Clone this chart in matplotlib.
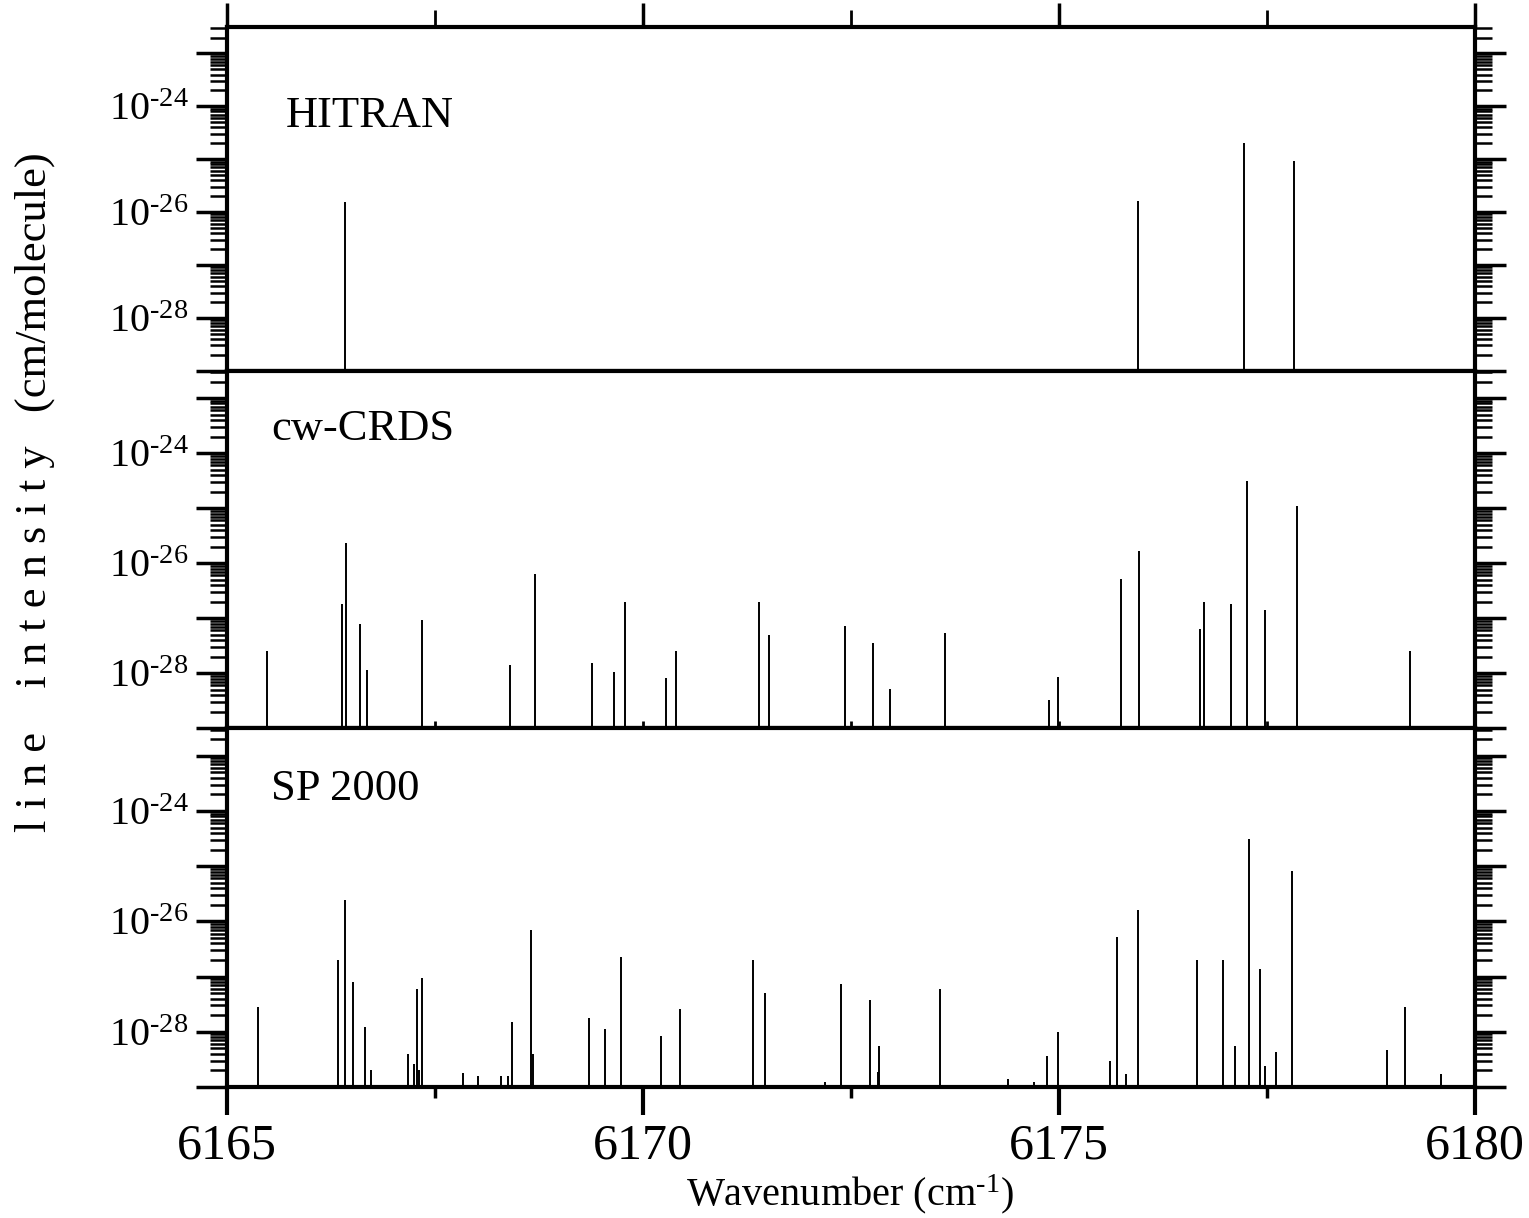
import numpy as np
import matplotlib
matplotlib.use("Agg")
import matplotlib.pyplot as plt
from matplotlib.ticker import FixedLocator, LogLocator, FuncFormatter, MultipleLocator, NullFormatter

plt.rcParams['font.family'] = 'serif'
plt.rcParams['font.serif'] = ['Liberation Serif', 'DejaVu Serif']
plt.rcParams['mathtext.fontset'] = 'custom'
plt.rcParams['mathtext.rm'] = 'Liberation Serif'
plt.rcParams['mathtext.it'] = 'Liberation Serif:italic'
plt.rcParams['mathtext.bf'] = 'Liberation Serif:bold'

# ---------------- data ----------------
panel_names = ["HITRAN", "cw-CRDS", "SP 2000"]

hitran_wn = [6166.41, 6175.95, 6177.23, 6177.83]
hitran_int = [1.55e-26, 1.6e-26, 2.0e-25, 9.1e-26]

crds_wn = [6165.48, 6166.38, 6166.43, 6166.59, 6166.68, 6167.34, 6168.40, 6168.70,
           6169.38, 6169.65, 6169.78, 6170.27, 6170.39, 6171.39, 6171.51, 6172.43,
           6172.76, 6172.97, 6173.63, 6174.88, 6174.99, 6175.75, 6175.97, 6176.70,
           6176.74, 6177.07, 6177.26, 6177.48, 6177.86, 6179.22]
crds_int = [2.5e-28, 1.8e-27, 2.35e-26, 7.8e-28, 1.15e-28, 9.3e-28, 1.4e-28, 6.3e-27,
            1.55e-28, 1.07e-28, 2.0e-27, 8.1e-29, 2.5e-28, 2.0e-27, 5.0e-28, 7.1e-28,
            3.6e-28, 5.2e-29, 5.4e-28, 3.3e-29, 8.7e-29, 5.1e-27, 1.66e-26, 6.3e-28,
            2.0e-27, 1.8e-27, 3.1e-25, 1.4e-27, 1.1e-25, 2.5e-28]

sp_wn = [6165.37, 6166.33, 6166.41, 6166.51, 6166.65, 6166.73, 6167.17, 6167.24,
         6167.28, 6167.31, 6167.34, 6167.83, 6168.01, 6168.29, 6168.38, 6168.42,
         6168.65, 6168.67, 6169.35, 6169.54, 6169.73, 6170.22, 6170.44, 6171.32,
         6171.47, 6172.19, 6172.38, 6172.73, 6172.82, 6172.84, 6173.57, 6174.39,
         6174.70, 6174.86, 6174.99, 6175.62, 6175.70, 6175.81, 6175.95, 6176.66,
         6176.98, 6177.12, 6177.29, 6177.42, 6177.48, 6177.61, 6177.80, 6178.95,
         6179.16, 6179.60]
sp_int = [2.8e-28, 2.0e-27, 2.4e-26, 8.1e-28, 1.2e-28, 2.0e-29, 3.9e-29, 2.6e-29,
          6.0e-28, 2.0e-29, 9.5e-28, 1.8e-29, 1.55e-29, 1.55e-29, 1.6e-29, 1.5e-28,
          6.9e-27, 3.9e-29, 1.8e-28, 1.1e-28, 2.3e-27, 8.3e-29, 2.6e-28, 2.0e-27,
          5.0e-28, 1.25e-29, 7.2e-28, 3.8e-28, 1.9e-29, 5.6e-29, 6.0e-28, 1.4e-29,
          1.25e-29, 3.6e-29, 1.0e-28, 2.9e-29, 5.2e-27, 1.7e-29, 1.6e-26, 2.0e-27,
          2.0e-27, 5.6e-29, 3.1e-25, 1.4e-27, 2.4e-29, 4.3e-29, 8.2e-26, 4.6e-29,
          2.8e-28, 1.7e-29]

labeled_exponents = [-24, -26, -28]
x_ticks_major = [6165, 6170, 6175, 6180]
x_tick_labels = ["6165", "6170", "6175", "6180"]

# ---------------- figure ----------------
YMIN, YMAX = 1e-29, 10 ** -22.5
fig = plt.figure(figsize=(15.29, 12.18), dpi=100)
gs = fig.add_gridspec(3, 1, left=0.1487, right=0.9644, top=0.9778, bottom=0.1076,
                      hspace=0, height_ratios=[343, 357, 358])
axes = [fig.add_subplot(gs[i]) for i in range(3)]

series = [(hitran_wn, hitran_int), (crds_wn, crds_int), (sp_wn, sp_int)]
text_pos = [(0.047, 0.709), (0.035, 0.805), (0.035, 0.80)]


def ylab(v, pos):
    e = int(round(np.log10(v)))
    if e in labeled_exponents:
        return r'$\mathregular{10^{\text{-}%d}}$' % (-e)
    return ''


for i, ax in enumerate(axes):
    wn, inten = series[i]
    ax.vlines(wn, YMIN, inten, colors='black', linewidth=1.4)
    ax.set_xlim(6165, 6180)
    ax.set_yscale('log')
    ax.set_ylim(YMIN, YMAX)
    ax.yaxis.set_major_locator(FixedLocator([10.0 ** k for k in range(-29, -22)]))
    ax.yaxis.set_minor_locator(LogLocator(base=10, subs=np.arange(2, 10), numticks=50))
    ax.yaxis.set_major_formatter(FuncFormatter(ylab))
    ax.yaxis.set_minor_formatter(NullFormatter())
    ax.tick_params(axis='y', which='major', direction='out', length=22, width=2.5,
                   left=True, right=True, labelleft=True, labelright=False,
                   labelsize=29, pad=6)
    ax.tick_params(axis='y', which='minor', direction='out', length=12, width=1.8,
                   left=True, right=True)
    ax.xaxis.set_major_locator(FixedLocator(x_ticks_major))
    ax.xaxis.set_minor_locator(MultipleLocator(2.5))
    for s in ax.spines.values():
        s.set_linewidth(3)
    ax.text(text_pos[i][0], text_pos[i][1], panel_names[i], transform=ax.transAxes,
            fontsize=32, ha='left', va='baseline')

# top panel: ticks on top only
axes[0].tick_params(axis='x', which='major', direction='out', length=17, width=2.5,
                    top=True, bottom=False, labeltop=False, labelbottom=False)
axes[0].tick_params(axis='x', which='minor', direction='out', length=12, width=2,
                    top=True, bottom=False)
# middle panel: small inward ticks on bottom
axes[1].tick_params(axis='x', which='both', direction='in', length=5, width=2,
                    top=False, bottom=True, labelbottom=False)
# bottom panel
axes[2].set_xticks(x_ticks_major)
axes[2].set_xticklabels(x_tick_labels)
axes[2].tick_params(axis='x', which='major', direction='out', length=20, width=3,
                    top=False, bottom=True, labelsize=36, pad=6)
axes[2].tick_params(axis='x', which='minor', direction='out', length=8, width=2.5,
                    top=False, bottom=True)

fig.text(0.556, 0.0195, r'Wavenumber (cm$\mathregular{^{\text{-}1}}$)', fontsize=29,
         ha='center', va='center')
fig.text(0.023, 0.596, 'l i n e    i n t e n s i t y   (cm/molecule)', fontsize=32,
         rotation=90, ha='center', va='center')

fig.savefig('out.png', dpi=100)
